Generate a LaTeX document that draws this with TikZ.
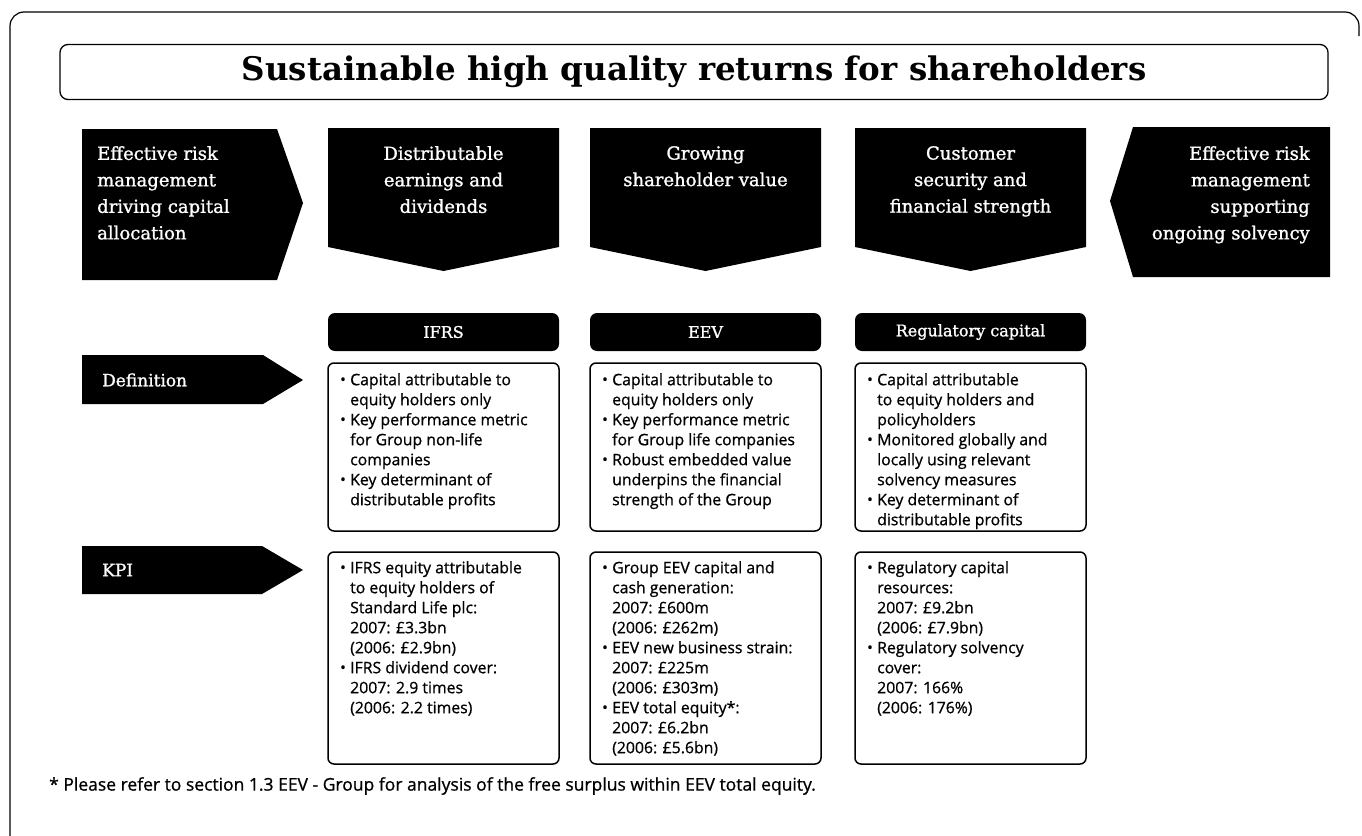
\documentclass[tikz,border=0pt]{standalone}
\usepackage{fontspec}
\setmainfont{DejaVu Serif}
\newfontfamily\headfont[FakeBold=1.2]{DejaVu Serif}
\newfontfamily\bodyfont[FakeBold=0.8]{Open Sans}
\usetikzlibrary{positioning}

\tikzset{
  banner/.style={fill=black},
  headtext/.style={text=white, font=\headfont\fontsize{18}{26.5}\selectfont, inner sep=0pt},
  colhead/.style={fill=black, rounded corners=7pt, minimum width=231pt, minimum height=38pt,
    text=white, font=\headfont\fontsize{16}{20}\selectfont, inner sep=0pt},
  infobox/.style={draw, line width=1.5pt, rounded corners=6pt},
  infotext/.style={font=\bodyfont\fontsize{15.8}{20}\selectfont, align=left, anchor=north west, inner sep=0pt},
}
\newcommand{\bul}{\makebox[10pt][l]{{\fontsize{15}{15}\selectfont\raisebox{0.5pt}{•}}}}
\newcommand{\hng}{\hspace*{10pt}}

\begin{document}
\begin{tikzpicture}[x=1pt,y=-1pt]
	\useasboundingbox (0,0) rectangle (1362,835);
	\begin{scope}
		\clip (0,0) rectangle (1362,835);
		\draw[line width=1.2pt, rounded corners=14pt] (10,870) -- (10,12) -- (1359,12) -- (1359,36);
	\end{scope}

	% title
	\node[draw, line width=1.3pt, rounded corners=8pt, minimum width=1268pt, minimum height=55pt,
		font=\fontsize{32.5}{32.5}\selectfont\bfseries] (title) at (694,72) {Sustainable high quality returns for shareholders};

	% black banners
	\fill[banner] (82,129) -- (277,129) -- (303,203) -- (277,280) -- (82,280) -- cycle;
	\fill[banner] (1133,127) -- (1330,127) -- (1330,277) -- (1133,277) -- (1110,201) -- cycle;
	\foreach \cx in {443.5,705.5,970.5}
		\fill[banner] (\cx-115.5,128) -- (\cx+115.5,128) -- (\cx+115.5,247) -- (\cx,271) -- (\cx-115.5,247) -- cycle;

	\node[headtext, anchor=north west, align=left] (drive) at (97,146) {Effective risk\\management\\driving capital\\allocation};
	\node[headtext, anchor=north, align=center] (dist) at (443.5,146) {Distributable\\earnings and\\dividends};
	\node[headtext, anchor=north, align=center] (grow) at (705.5,146) {Growing\\shareholder value};
	\node[headtext, anchor=north, align=center] (cust) at (970.5,146) {Customer\\security and\\financial strength};
	\node[headtext, anchor=north east, align=right] (solv) at (1310,146) {Effective risk\\management\\supporting\\ongoing solvency};

	% row labels
	\fill[banner] (82,355) -- (263,355) -- (303,380) -- (263,404) -- (82,404) -- cycle;
	\fill[banner] (82,546) -- (262,546) -- (303,570) -- (262,594) -- (82,594) -- cycle;
	\node[headtext, font=\headfont\fontsize{17}{20}\selectfont, anchor=west] (defn) at (102,380) {Definition};
	\node[headtext, font=\headfont\fontsize{17}{20}\selectfont, anchor=west] (kpi) at (102,570) {KPI};

	% column heads
	\node[colhead] (ifrs) at (443.5,332) {IFRS};
	\node[colhead] (eev) at (705.5,332) {EEV};
	\node[colhead] (reg) at (970.5,332) {Regulatory capital};

	% boxes
	\draw[infobox] (328,363) rectangle (559,531);
	\draw[infobox] (590,363) rectangle (821,531);
	\draw[infobox] (855,363) rectangle (1086,531);
	\draw[infobox] (328,552) rectangle (559,764);
	\draw[infobox] (590,552) rectangle (821,764);
	\draw[infobox] (855,552) rectangle (1086,764);

	\node[infotext] (ifrsdef) at (340,373) {\bul Capital attributable to\\\hng equity holders only\\\bul Key performance metric\\\hng for Group non-life\\\hng companies\\\bul Key determinant of\\\hng distributable profits};
	\node[infotext] (eevdef) at (602,373) {\bul Capital attributable to\\\hng equity holders only\\\bul Key performance metric\\\hng for Group life companies\\\bul Robust embedded value\\\hng underpins the financial\\\hng strength of the Group};
	\node[infotext] (regdef) at (867,373) {\bul Capital attributable\\\hng to equity holders and\\\hng policyholders\\\bul Monitored globally and\\\hng locally using relevant\\\hng solvency measures\\\bul Key determinant of\\\hng distributable profits};

	\node[infotext] (ifrskpi) at (340,561) {\bul IFRS equity attributable\\\hng to equity holders of\\\hng Standard Life plc:\\\hng 2007: £3.3bn\\\hng (2006: £2.9bn)\\\bul IFRS dividend cover:\\\hng 2007: 2.9 times\\\hng (2006: 2.2 times)};
	\node[infotext] (eevkpi) at (602,561) {\bul Group EEV capital and\\\hng cash generation:\\\hng 2007: £600m\\\hng (2006: £262m)\\\bul EEV new business strain:\\\hng 2007: £225m\\\hng (2006: £303m)\\\bul EEV total equity*:\\\hng 2007: £6.2bn\\\hng (2006: £5.6bn)};
	\node[infotext] (regkpi) at (867,561) {\bul Regulatory capital\\\hng resources:\\\hng 2007: £9.2bn\\\hng (2006: £7.9bn)\\\bul Regulatory solvency\\\hng cover:\\\hng 2007: 166\%\\\hng (2006: 176\%)};

	% footnote
	\node[font=\bodyfont\fontsize{17.5}{20}\selectfont, anchor=west, inner sep=0pt] (note) at (49,786)
		{* Please refer to section 1.3 EEV - Group for analysis of the free surplus within EEV total equity.};
\end{tikzpicture}
\end{document}
